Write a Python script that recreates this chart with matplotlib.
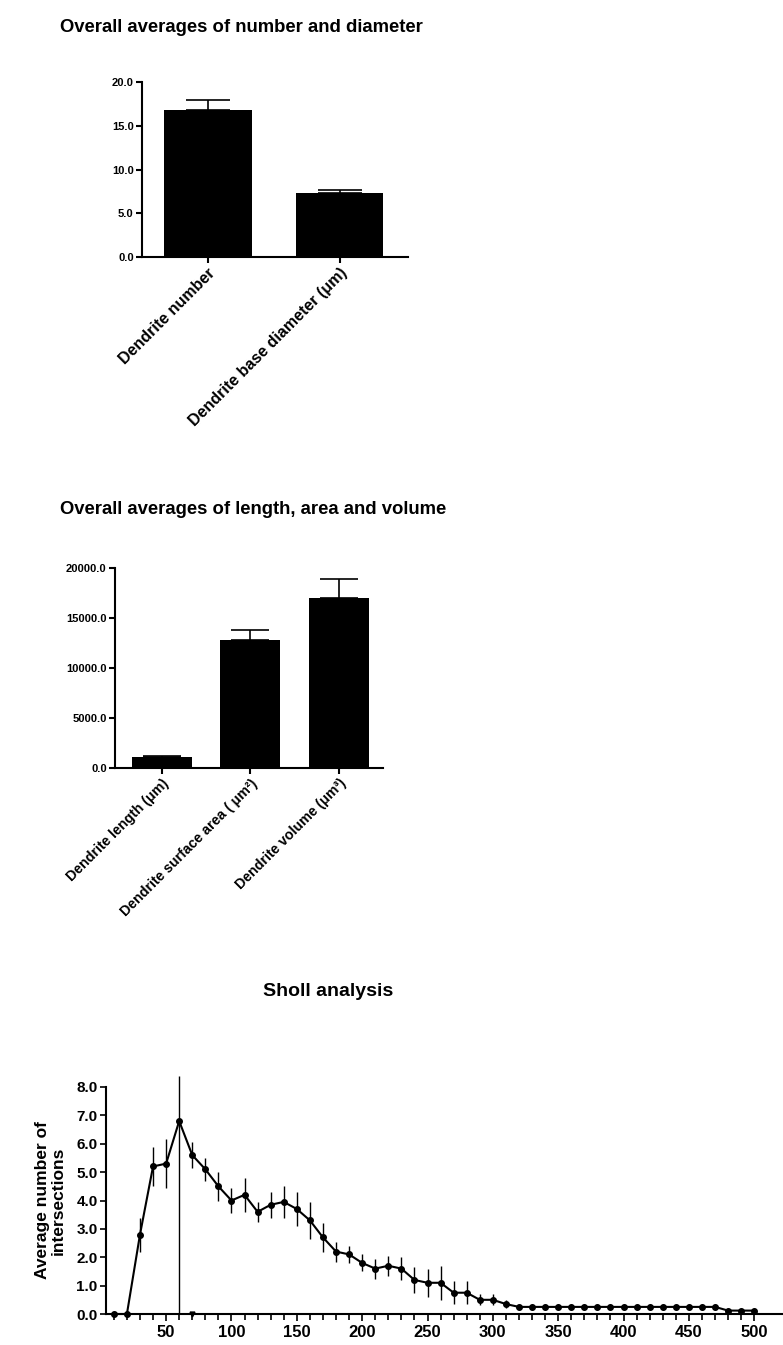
import matplotlib
matplotlib.use("Agg")
import matplotlib.pyplot as plt
import numpy as np

plt.rcParams['font.family'] = ['Liberation Sans', 'DejaVu Sans']
plt.rcParams['font.weight'] = 'bold'

# Panel 1: dendrite number and base diameter
p1_labels = ["Dendrite number", "Dendrite base diameter (\u03bcm)"]
p1_means = [16.8, 7.3]
p1_err = [1.1, 0.4]
p1_ticks = [0.0, 5.0, 10.0, 15.0, 20.0]

# Panel 2: length, surface area, volume
p2_labels = ["Dendrite length (\u03bcm)", "Dendrite surface area ( \u03bcm\u00b2)", "Dendrite volume (\u03bcm\u00b3)"]
p2_means = [1100.0, 12850.0, 17050.0]
p2_err = [80.0, 1000.0, 1850.0]
p2_ticks = [0.0, 5000.0, 10000.0, 15000.0, 20000.0]

# Panel 3: Sholl analysis (radius in um vs. mean intersections)
sholl_r = [10, 20, 30, 40, 50, 60, 70, 80, 90, 100,
           110, 120, 130, 140, 150, 160, 170, 180, 190, 200,
           210, 220, 230, 240, 250, 260, 270, 280, 290, 300,
           310, 320, 330, 340, 350, 360, 370, 380, 390, 400,
           410, 420, 430, 440, 450, 460, 470, 480, 490, 500]
sholl_mean = [0.0, 0.0, 2.8, 5.2, 5.3, 6.8, 5.6, 5.1, 4.5, 4.0,
              4.2, 3.6, 3.85, 3.95, 3.7, 3.3, 2.7, 2.2, 2.1, 1.8,
              1.6, 1.7, 1.6, 1.2, 1.1, 1.1, 0.75, 0.75, 0.5, 0.5,
              0.35, 0.25, 0.25, 0.25, 0.25, 0.25, 0.25, 0.25, 0.25, 0.25,
              0.25, 0.25, 0.25, 0.25, 0.25, 0.25, 0.25, 0.12, 0.12, 0.12]
# lower / upper error extents (the 60 um bar spans from 0 up to ~8.4)
sholl_err_lo = [0.0, 0.0, 0.6, 0.7, 0.85, 6.8, 0.45, 0.4, 0.5, 0.45,
                0.6, 0.35, 0.45, 0.55, 0.6, 0.65, 0.5, 0.35, 0.3, 0.3,
                0.35, 0.35, 0.4, 0.45, 0.5, 0.6, 0.4, 0.4, 0.2, 0.2,
                0.15, 0.12, 0.12, 0.12, 0.12, 0.12, 0.12, 0.12, 0.12, 0.12,
                0.12, 0.12, 0.12, 0.12, 0.12, 0.12, 0.12, 0.08, 0.08, 0.08]
sholl_err_hi = [0.0, 0.0, 0.6, 0.7, 0.85, 1.6, 0.45, 0.4, 0.5, 0.45,
                0.6, 0.35, 0.45, 0.55, 0.6, 0.65, 0.5, 0.35, 0.3, 0.3,
                0.35, 0.35, 0.4, 0.45, 0.5, 0.6, 0.4, 0.4, 0.2, 0.2,
                0.15, 0.12, 0.12, 0.12, 0.12, 0.12, 0.12, 0.12, 0.12, 0.12,
                0.12, 0.12, 0.12, 0.12, 0.12, 0.12, 0.12, 0.08, 0.08, 0.08]
sholl_xticks = [50, 100, 150, 200, 250, 300, 350, 400, 450, 500]
sholl_yticks = [0.0, 1.0, 2.0, 3.0, 4.0, 5.0, 6.0, 7.0, 8.0]
stray_r = [70]
stray_y = [0.0]

W, H = 783, 1345
fig = plt.figure(figsize=(W / 100, H / 100), dpi=100)
fig.patch.set_facecolor('white')


def px_axes(left, top, right, bottom):
    return fig.add_axes([left / W, 1 - bottom / H, (right - left) / W, (bottom - top) / H])


def style_bar_axes(ax):
    for s in ('top', 'right'):
        ax.spines[s].set_visible(False)
    for s in ('left', 'bottom'):
        ax.spines[s].set_linewidth(1.5)
    ax.tick_params(axis='both', width=1.5, length=4, direction='out', pad=2)


# ---- Panel 1 ----
fig.text(60 / W, 1 - 28 / H, "Overall averages of number and diameter",
         fontsize=13.3, fontweight='bold', va='center', ha='left')
ax1 = px_axes(142, 82, 408, 257)
x1 = np.arange(len(p1_means))
ax1.bar(x1, p1_means, width=0.667, color='black', zorder=2)
ax1.errorbar(x1, p1_means, yerr=[np.zeros(len(p1_err)), p1_err], fmt='none',
             ecolor='black', elinewidth=1.2, capsize=16, capthick=1.2, zorder=1)
ax1.set_xlim(-0.5, 1.52)
ax1.set_ylim(0, 20)
ax1.set_yticks(p1_ticks)
ax1.set_yticklabels([f"{v:.1f}" for v in p1_ticks], fontsize=8, fontweight='bold')
ax1.set_xticks(x1)
ax1.set_xticklabels(p1_labels, rotation=45, ha='right', rotation_mode='anchor',
                    fontsize=11.5, fontweight='bold')
style_bar_axes(ax1)

# ---- Panel 2 ----
fig.text(60 / W, 1 - 510 / H, "Overall averages of length, area and volume",
         fontsize=13.3, fontweight='bold', va='center', ha='left')
ax2 = px_axes(115, 568, 383, 768)
x2 = np.arange(len(p2_means))
ax2.bar(x2, p2_means, width=0.68, color='black', zorder=2)
ax2.errorbar(x2, p2_means, yerr=[np.zeros(len(p2_err)), p2_err], fmt='none',
             ecolor='black', elinewidth=1.2, capsize=13.5, capthick=1.2, zorder=1)
ax2.set_xlim(-0.53, 2.5)
ax2.set_ylim(0, 20000)
ax2.set_yticks(p2_ticks)
ax2.set_yticklabels([f"{v:.1f}" for v in p2_ticks], fontsize=8, fontweight='bold')
ax2.set_xticks(x2)
ax2.set_xticklabels(p2_labels, rotation=45, ha='right', rotation_mode='anchor',
                    fontsize=10.2, fontweight='bold')
style_bar_axes(ax2)

# ---- Panel 3: Sholl ----
fig.text(328 / W, 1 - 992 / H, "Sholl analysis",
         fontsize=14, fontweight='bold', va='center', ha='center')
ax3 = px_axes(106, 1087, 783, 1314)
ax3.errorbar(sholl_r, sholl_mean, yerr=[sholl_err_lo, sholl_err_hi], fmt='-o', color='black',
             markersize=4, linewidth=1.5, elinewidth=1.0, capsize=0,
             clip_on=False, zorder=3)
ax3.plot(stray_r, stray_y, marker='v', color='black', markersize=3.5,
         linestyle='none', clip_on=False, zorder=3)
ax3.set_xlim(4, 522)
ax3.set_ylim(0, 8)
ax3.set_xticks(sholl_xticks)
ax3.set_xticklabels([str(v) for v in sholl_xticks], fontsize=12, fontweight='bold')
ax3.set_xticks(sholl_r, minor=True)
ax3.set_yticks(sholl_yticks)
ax3.set_yticklabels([f"{v:.1f}" for v in sholl_yticks], fontsize=11, fontweight='bold')
ax3.set_ylabel("Average number of\nintersections", fontsize=12.5, fontweight='bold',
               labelpad=8, linespacing=1.0)
for s in ('top', 'right'):
    ax3.spines[s].set_visible(False)
for s in ('left', 'bottom'):
    ax3.spines[s].set_linewidth(1.5)
ax3.tick_params(axis='both', which='both', width=1.2, direction='out')
ax3.tick_params(axis='x', which='major', length=5, pad=3)
ax3.tick_params(axis='x', which='minor', length=4)
ax3.tick_params(axis='y', length=4, pad=2)

fig.savefig("out.png", dpi=100, facecolor='white')
